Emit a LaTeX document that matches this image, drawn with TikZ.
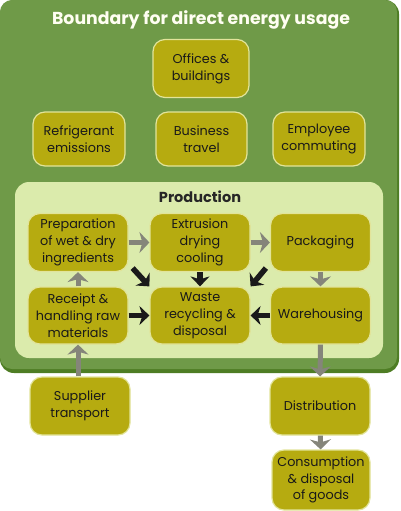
\documentclass[tikz,border=0pt]{standalone}
\usepackage{fontspec}
\setmainfont{Poppins}
\usepackage{tikz}
\usetikzlibrary{arrows.meta,positioning,shapes}
\definecolor{colorboundary}{HTML}{6F9A48}
\definecolor{colorboundaryedge}{HTML}{4E7D24}
\definecolor{colorproduction}{HTML}{DBEBAC}
\definecolor{colorstage}{HTML}{B6AB10}
\definecolor{colorstageedge}{HTML}{E2E49A}
\definecolor{colorflow}{HTML}{85857A}
\definecolor{colorwaste}{HTML}{1A1A1A}
\tikzstyle{stage}=[rectangle, rounded corners=12pt, minimum width=100pt, minimum height=58pt, draw=colorstageedge, line width=1.2pt, fill=colorstage, text=black!90, align=center, inner sep=1pt, font=\fontsize{12.8}{16.8}\selectfont]
\tikzstyle{flow}=[draw=colorflow, line width=5pt, -{Stealth[length=10pt, width=21pt, inset=3pt]}]
\tikzstyle{waste}=[draw=colorwaste, line width=5.5pt, -{Stealth[length=10pt, width=19pt, inset=3pt]}]

\begin{document}
\begin{tikzpicture}[x=1pt, y=-1pt]
		\useasboundingbox (0, 0) rectangle (400, 511);
		
		\fill[colorboundaryedge, rounded corners=14pt] (0, 0) rectangle (399, 373);
		\fill[colorboundary, rounded corners=12pt] (0, 0) rectangle (397, 369);
		\fill[colorproduction, rounded corners=14pt] (15, 182) rectangle (383, 358);
		
		\node[text=white!95!yellow, font=\fontsize{17.3}{19}\selectfont\bfseries] at (201, 20) (boundary) {Boundary for direct energy usage};
		\node[font=\fontsize{14.5}{16}\selectfont\bfseries, text=black!85] at (200, 197) (production) {Production};
		
		\node[stage, minimum width=96pt] at (201, 68.5) (offices) {Offices \&\\buildings};
		
		\node[stage, minimum width=92pt, minimum height=54pt] at (79, 139) (refrigerant) {Refrigerant\\emissions};
		
		\node[stage, minimum width=91pt, minimum height=54pt] at (201.5, 139) (business) {Business\\travel};
		
		\node[stage, minimum width=92pt, minimum height=54pt] at (319, 139) (commuting) {Employee\\commuting};
		
		\node[stage] at (78, 242.5) (preparation) {Preparation\\of wet \& dry\\ingredients};
		
		\node[stage] at (200, 242.5) (extrusion) {Extrusion\\drying\\cooling};
		
		\node[stage] at (320.5, 242.5) (packaging) {Packaging};
		
		\node[stage, minimum height=57pt] at (78, 315.5) (receipt) {Receipt \&\\handling raw\\materials};
		
		\node[stage, minimum height=57pt] at (200, 315.5) (recycling) {Waste\\recycling \&\\disposal};
		
		\node[stage, minimum height=57pt] at (320.5, 315.5) (warehousing) {Warehousing};
		
		\node[stage] at (80, 406) (supplier) {Supplier\\transport};
		
		\node[stage] at (320, 406) (distribution) {Distribution};
		
		\node[stage, minimum width=98pt, minimum height=60pt] at (321, 480) (consumption) {Consumption\\\& disposal\\of goods};
		
		\path (preparation) edge[flow] (extrusion);
		\path (extrusion) edge[flow] (packaging);
		\path (packaging) edge[flow] (warehousing);
		\path (receipt) edge[flow] (preparation);
		\path (supplier.north -| receipt) edge[flow] (receipt);
		\path (warehousing) edge[flow] (distribution);
		\path (distribution) edge[flow] (consumption);
		
		\path ([shift={(4pt, 4pt)}]preparation.south east) edge[waste] (recycling.north west);
		\path (extrusion) edge[waste] (recycling);
		\path ([shift={(-4pt, 4pt)}]packaging.south west) edge[waste] (recycling.north east);
		\path (receipt) edge[waste] (recycling);
		\path (warehousing) edge[waste] (recycling);
		
		\end{tikzpicture}
\end{document}
